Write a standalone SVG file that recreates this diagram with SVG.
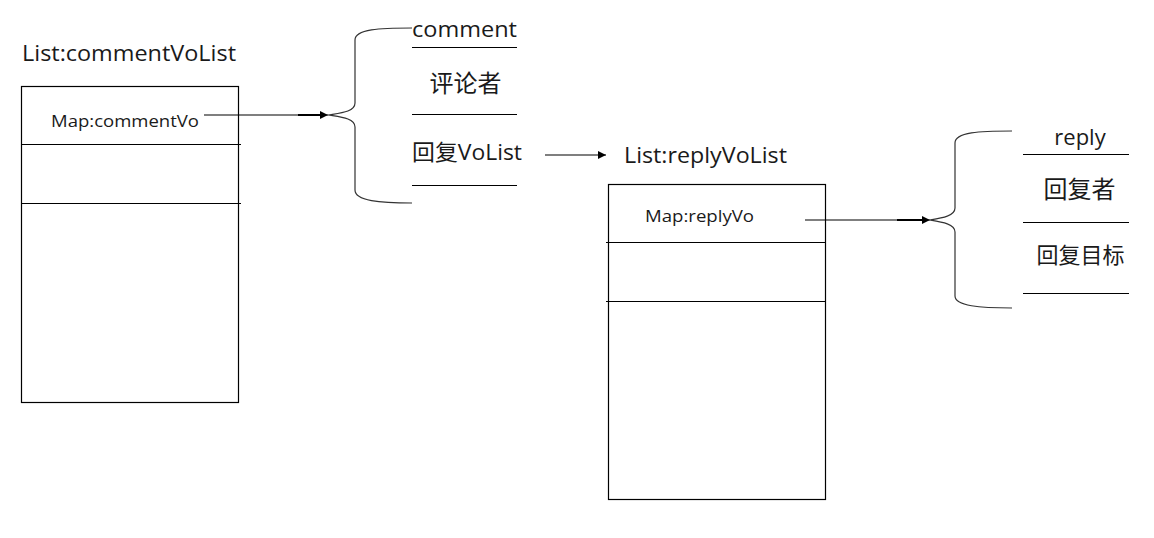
<svg xmlns="http://www.w3.org/2000/svg" width="1154" height="538" viewBox="0 0 1154 538">
<defs>
<marker id="ah" viewBox="0 0 10 10" refX="10" refY="5" markerWidth="10" markerHeight="8" markerUnits="userSpaceOnUse" orient="auto"><path d="M0,0 L10,5 L0,10 z" fill="#000"/></marker>
<style>
.t{font-family:"Open Sans","Noto Sans CJK SC",sans-serif;fill:#1a1a1a}
.big{font-size:22px}
.cjk{font-size:24px}
.sm{font-size:16px}
.ln{stroke:#000;stroke-width:1.2;fill:none}
.br{stroke:#333;stroke-width:1.2;fill:none}
</style>
</defs>
<rect width="1154" height="538" fill="#fff"/>
<g id="commentVoList">
<text class="t big" x="22" y="61" textLength="214" lengthAdjust="spacingAndGlyphs">List:commentVoList</text>
<rect class="ln" x="21.5" y="86.5" width="217" height="316"/>
<line class="ln" x1="22" y1="144.5" x2="241" y2="144.5"/>
<line class="ln" x1="22" y1="203.5" x2="241" y2="203.5"/>
<text class="t sm" x="51" y="127" textLength="148" lengthAdjust="spacingAndGlyphs">Map:commentVo</text>
</g>
<g id="comment">
<path class="br" d="M412,28 C380,28 355,29 355,40 L355,103 C355,112 340,113 328,115 C340,117 355,118 355,127 L355,190 C355,201 380,203 412,203"/>
<text class="t big" x="412" y="37" textLength="105" lengthAdjust="spacingAndGlyphs">comment</text>
<line class="ln" x1="412" y1="47.5" x2="517" y2="47.5"/>
<text class="t cjk" x="465.5" y="92" text-anchor="middle">评论者</text>
<line class="ln" x1="412" y1="114.5" x2="517" y2="114.5"/>
<text class="t big" x="412" y="160" textLength="110" lengthAdjust="spacingAndGlyphs">回复VoList</text>
<line class="ln" x1="412" y1="185.5" x2="517" y2="185.5"/>
</g>
<g id="replyVoList">
<text class="t big" x="624" y="163" textLength="163" lengthAdjust="spacingAndGlyphs">List:replyVoList</text>
<rect class="ln" x="608.5" y="184.5" width="217" height="315"/>
<line class="ln" x1="606" y1="242.5" x2="825" y2="242.5"/>
<line class="ln" x1="606" y1="301.5" x2="825" y2="301.5"/>
<text class="t sm" x="645" y="222" textLength="109" lengthAdjust="spacingAndGlyphs">Map:replyVo</text>
</g>
<g id="reply">
<path class="br" d="M1012,131 C980,131 955,132 955,143 L955,208 C955,216 942,218 930,220 C942,222 955,224 955,232 L955,296 C955,306 980,308 1012,308"/>
<text class="t big" x="1080" y="145" text-anchor="middle">reply</text>
<line class="ln" x1="1023" y1="154.5" x2="1129" y2="154.5"/>
<text class="t cjk" x="1079.5" y="198" text-anchor="middle">回复者</text>
<line class="ln" x1="1023" y1="222.5" x2="1129" y2="222.5"/>
<text class="t" style="font-size:22px" x="1080.5" y="263" text-anchor="middle">回复目标</text>
<line class="ln" x1="1023" y1="293.5" x2="1129" y2="293.5"/>
</g>
<g id="connectors">
<line class="ln" x1="204" y1="115" x2="328" y2="115" marker-end="url(#ah)"/>
<line stroke="#000" stroke-width="2" x1="298" y1="115" x2="320" y2="115"/>
<line class="ln" x1="545" y1="155" x2="606" y2="155" marker-end="url(#ah)"/>
<line class="ln" x1="805" y1="220" x2="930" y2="220" marker-end="url(#ah)"/>
<line stroke="#000" stroke-width="2" x1="897" y1="220" x2="922" y2="220"/>
</g>
</svg>
